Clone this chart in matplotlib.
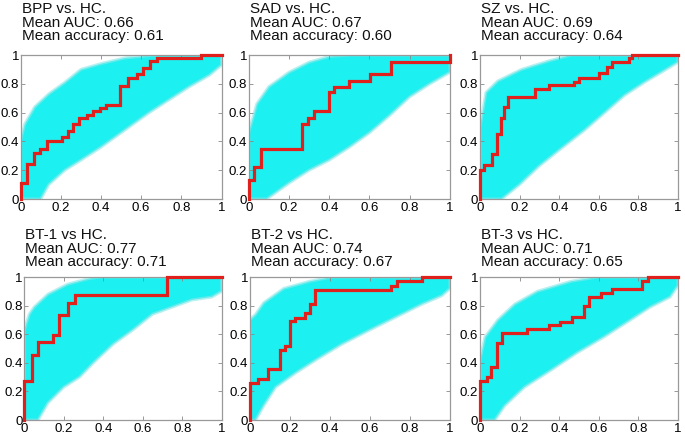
import matplotlib
matplotlib.use('Agg')
import matplotlib.pyplot as plt
import numpy as np

plt.rcParams['font.family'] = ['Liberation Sans', 'DejaVu Sans']

titles = ['BPP vs. HC.', 'SAD vs. HC.', 'SZ vs. HC.',
          'BT-1 vs HC.', 'BT-2 vs HC.', 'BT-3 vs HC.']
mean_auc = [0.66, 0.67, 0.69, 0.77, 0.74, 0.71]
mean_acc = [0.61, 0.60, 0.64, 0.71, 0.67, 0.65]

bpp_fpr = [0, 0, 0.03, 0.068, 0.096, 0.13, 0.204, 0.237, 0.26, 0.29, 0.33, 0.36, 0.395, 0.425, 0.494, 0.535, 0.577, 0.61, 0.643, 0.677, 0.9, 1.0]
bpp_tpr = [0, 0.113, 0.243, 0.32, 0.35, 0.40, 0.43, 0.47, 0.52, 0.56, 0.58, 0.61, 0.63, 0.65, 0.785, 0.84, 0.87, 0.91, 0.955, 0.977, 1.0, 1.0]
sad_fpr = [0, 0, 0.025, 0.063, 0.265, 0.294, 0.324, 0.397, 0.426, 0.50, 0.605, 0.707, 1.0, 1.0]
sad_tpr = [0, 0.13, 0.22, 0.345, 0.52, 0.56, 0.61, 0.74, 0.775, 0.82, 0.87, 0.95, 0.95, 1.0]
sz_fpr = [0, 0, 0.022, 0.062, 0.084, 0.105, 0.123, 0.143, 0.28, 0.35, 0.477, 0.50, 0.60, 0.64, 0.666, 0.75, 0.767, 1.0]
sz_tpr = [0, 0.20, 0.235, 0.31, 0.45, 0.56, 0.64, 0.705, 0.765, 0.79, 0.815, 0.84, 0.877, 0.92, 0.95, 0.98, 1.0, 1.0]
bt1_fpr = [0, 0, 0.037, 0.071, 0.147, 0.177, 0.22, 0.257, 0.721, 1.0]
bt1_tpr = [0, 0.27, 0.455, 0.545, 0.594, 0.734, 0.82, 0.872, 1.0, 1.0]
bt2_fpr = [0, 0, 0.041, 0.091, 0.149, 0.177, 0.199, 0.224, 0.274, 0.30, 0.327, 0.705, 0.735, 0.86, 1.0]
bt2_tpr = [0, 0.26, 0.285, 0.354, 0.487, 0.52, 0.69, 0.715, 0.75, 0.81, 0.907, 0.937, 0.972, 1.0, 1.0]
bt3_fpr = [0, 0, 0.034, 0.056, 0.084, 0.11, 0.236, 0.346, 0.405, 0.467, 0.523, 0.548, 0.61, 0.666, 0.818, 0.85, 1.0]
bt3_tpr = [0, 0.273, 0.30, 0.37, 0.54, 0.61, 0.634, 0.664, 0.688, 0.72, 0.80, 0.86, 0.885, 0.915, 0.972, 1.0, 1.0]

# envelope of the cyan (permutation) curves: upper-left and lower-right edges
bpp_up = ([0, 0, 0.02, 0.07, 0.14, 0.22, 0.30, 0.40, 0.52, 0.67, 1.0],
          [0, 0.41, 0.52, 0.64, 0.73, 0.81, 0.90, 0.94, 0.98, 1.0, 1.0])
bpp_lo = ([0, 0.10, 0.14, 0.22, 0.30, 0.40, 0.52, 0.64, 0.74, 0.84, 0.94, 1.0, 1.0],
          [0, 0.0, 0.10, 0.20, 0.27, 0.36, 0.48, 0.60, 0.69, 0.78, 0.86, 0.93, 1.0])
sad_up = ([0, 0, 0.04, 0.10, 0.20, 0.30, 0.40, 0.50, 1.0],
          [0, 0.46, 0.66, 0.78, 0.88, 0.95, 0.99, 1.0, 1.0])
sad_lo = ([0, 0.09, 0.20, 0.30, 0.40, 0.50, 0.60, 0.70, 0.80, 0.90, 1.0, 1.0],
          [0, 0.0, 0.11, 0.20, 0.27, 0.36, 0.46, 0.58, 0.71, 0.80, 0.88, 1.0])
sz_up = ([0, 0, 0.03, 0.09, 0.21, 0.35, 0.46, 1.0],
         [0, 0.50, 0.74, 0.82, 0.90, 0.96, 1.0, 1.0])
sz_lo = ([0, 0.11, 0.20, 0.30, 0.40, 0.53, 0.63, 0.73, 0.83, 0.94, 1.0, 1.0],
         [0, 0.0, 0.10, 0.23, 0.34, 0.48, 0.60, 0.72, 0.81, 0.90, 0.95, 1.0])
bt1_up = ([0, 0, 0.025, 0.05, 0.12, 0.22, 0.33, 0.38, 1.0],
          [0, 0.63, 0.74, 0.79, 0.88, 0.95, 0.99, 1.0, 1.0])
bt1_lo = ([0, 0.07, 0.12, 0.20, 0.28, 0.35, 0.45, 0.55, 0.65, 0.75, 0.85, 0.95, 1.0, 1.0],
          [0, 0.0, 0.12, 0.23, 0.30, 0.40, 0.53, 0.63, 0.74, 0.79, 0.84, 0.86, 0.90, 1.0])
bt2_up = ([0, 0, 0.03, 0.07, 0.17, 0.30, 0.41, 1.0],
          [0, 0.70, 0.74, 0.82, 0.92, 0.97, 1.0, 1.0])
bt2_lo = ([0, 0.03, 0.07, 0.13, 0.23, 0.33, 0.46, 0.60, 0.73, 0.86, 0.96, 1.0, 1.0],
          [0, 0.0, 0.10, 0.23, 0.33, 0.42, 0.53, 0.63, 0.72, 0.81, 0.87, 0.92, 1.0])
bt3_up = ([0, 0, 0.025, 0.09, 0.175, 0.29, 0.46, 0.59, 1.0],
          [0, 0.42, 0.58, 0.70, 0.81, 0.90, 0.97, 1.0, 1.0])
bt3_lo = ([0, 0.075, 0.125, 0.225, 0.36, 0.49, 0.625, 0.76, 0.86, 0.96, 1.0, 1.0],
          [0, 0.0, 0.10, 0.23, 0.35, 0.47, 0.58, 0.70, 0.79, 0.86, 0.94, 1.0])

red_curves = [(bpp_fpr, bpp_tpr), (sad_fpr, sad_tpr), (sz_fpr, sz_tpr),
              (bt1_fpr, bt1_tpr), (bt2_fpr, bt2_tpr), (bt3_fpr, bt3_tpr)]
envelopes = [(bpp_up, bpp_lo), (sad_up, sad_lo), (sz_up, sz_lo),
             (bt1_up, bt1_lo), (bt2_up, bt2_lo), (bt3_up, bt3_lo)]

W, H = 685, 436
fig = plt.figure(figsize=(W / 100, H / 100), dpi=100)

# axes boxes in pixels: left, right, top, bottom
boxes = [(20.7, 221.5, 55, 199), (248.7, 450, 55, 199), (480, 678, 55, 199),
         (24.3, 221.7, 277, 420), (249.7, 450, 277, 420), (480, 678, 277, 420)]
title_top = [2] * 3 + [228] * 3

ticks = [0, 0.2, 0.4, 0.6, 0.8, 1]
tick_labels = ['0', '0.2', '0.4', '0.6', '0.8', '1']

for i in range(6):
    l, r, t, b = boxes[i]
    ax = fig.add_axes([l / W, 1 - b / H, (r - l) / W, (b - t) / H])

    (ux, uy), (lx, ly) = envelopes[i]
    px = list(ux) + list(lx)[::-1]
    py = list(uy) + list(ly)[::-1]
    ax.fill(px, py, color='#1cf0f0', lw=0, zorder=1)
    ax.plot(ux, uy, color='#8ae8e8', lw=2.2, alpha=0.6, zorder=1)
    ax.plot(lx, ly, color='#8ae8e8', lw=2.2, alpha=0.6, zorder=1)

    fx, fy = red_curves[i]
    ax.plot(fx, fy, drawstyle='steps-post', color='#e0201c', lw=2.3,
            zorder=3, solid_joinstyle='miter', clip_on=False)

    ax.set_xlim(0, 1)
    ax.set_ylim(0, 1)
    ax.set_xticks(ticks)
    ax.set_yticks(ticks)
    ax.set_xticklabels(tick_labels)
    ax.set_yticklabels(tick_labels)
    ax.tick_params(direction='in', length=3, width=0.6, color='#888888',
                   top=True, right=True, labelsize=9.5)
    ax.tick_params(axis='x', pad=2.5)
    ax.tick_params(axis='y', pad=1.2)
    for s in ax.spines.values():
        s.set_color('#999999')
        s.set_linewidth(0.9)

    label = '%s\nMean AUC: %.2f\nMean accuracy: %.2f' % (
        titles[i], mean_auc[i], mean_acc[i])
    fig.text((l + 1) / W, 1 - title_top[i] / H, label, fontsize=11,
             va='top', ha='left', linespacing=0.97, color='#111111')

fig.savefig('out.png', dpi=100)
